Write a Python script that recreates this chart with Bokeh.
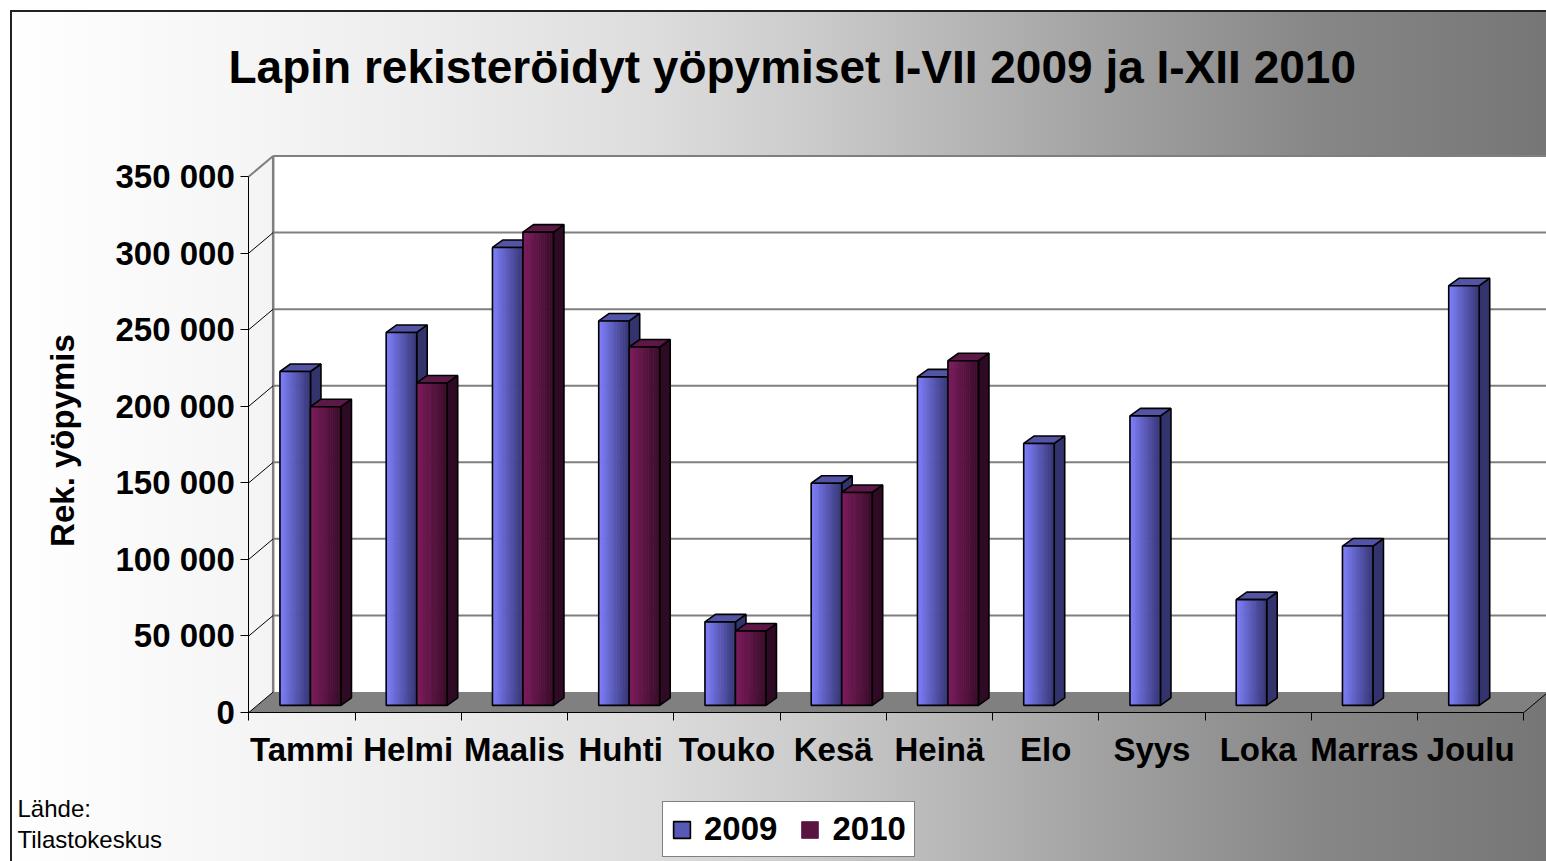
import math
from bokeh.plotting import figure
from bokeh.models import (Range1d, LinearAxis, FixedTicker, Legend, LegendItem, Title, Label,
                          ColumnDataSource, InlineStyleSheet)
from bokeh.embed import file_html
from bokeh.resources import INLINE

# ---------------- data ----------------
months = ["Tammi", "Helmi", "Maalis", "Huhti", "Touko", "Kesä",
          "Heinä", "Elo", "Syys", "Loka", "Marras", "Joulu"]
v2009 = [218000, 243500, 299000, 251000, 54500, 145000,
         214500, 171000, 189000, 69000, 104000, 274000]
v2010 = [195000, 210500, 309000, 234000, 48500, 139000, 225000]
series_names = ["2009", "2010"]
y_ticks = [0, 50000, 100000, 150000, 200000, 250000, 300000, 350000]
title_text = "Lapin rekisteröidyt yöpymiset I-VII 2009 ja I-XII 2010"
y_label = "Rek. yöpymis"
source_lines = ["Lähde:", "Tilastokeskus"]

# ---------------- layout / geometry (styling) ----------------
W, H = 1546, 861
BT = 120                        # frame top (title panel above)
AX_X, AX_Y = 248.3, 712.0       # page position of the front axes' origin
PX_CAT = 106.25                 # px per category
PX_VAL = 76.57 / 50000          # px per value unit
X_START, X_END = -AX_X / PX_CAT, (W - AX_X) / PX_CAT
Y_START, Y_END = -(H - AX_Y) / PX_VAL, (AX_Y - BT) / PX_VAL
DX = 24.4 / PX_CAT              # chart depth (x units)
DY = 20.5 / PX_VAL              # chart depth (value units)
F0 = 0.35
OX, OY = F0 * DX, F0 * DY       # bar front plane offset
BAR_W = 30.5 / PX_CAT
BDX = 10.5 / PX_CAT             # bar depth projected
BDY = 7.5 / PX_VAL
N_STRIP = 14
FONT = "Liberation Sans"


def px_x(px):   # page x -> data x
    return (px - AX_X) / PX_CAT


def px_y(py):   # page y -> data y
    return (AX_Y - py) / PX_VAL


p = figure(width=W, height=H, x_range=Range1d(X_START, X_END), y_range=Range1d(Y_START, Y_END),
           x_axis_type=None, y_axis_type=None, output_backend="svg",
           toolbar_location=None, min_border_left=0, min_border_right=0,
           min_border_top=BT, min_border_bottom=0,
           background_fill_color=None, border_fill_color=None,
           outline_line_color=None)
p.stylesheets = [InlineStyleSheet(css=""":host {
  background: linear-gradient(to right, #ffffff 0%, #f6f6f6 15%, #ececec 28%, #dddddd 42%,
              #cccccc 52%, #b4b4b4 63%, #9c9c9c 74%, #878787 85%, #767676 100%);
  box-shadow: inset 10px 10px 0 0 #ffffff, inset 12px 12px 0 0 #222222;
}""")]

# ---------------- title ----------------
p.add_layout(Title(text=title_text, align="left", offset=228, standoff=56,
                   text_font=FONT, text_font_size="46px", text_font_style="bold",
                   text_color="black"), "above")

# ---------------- walls & floor ----------------
top_v = y_ticks[-1]
n_cat = len(months)
p.quad(left=[DX], right=[X_END + 1], bottom=[DY], top=[DY + top_v],
       fill_color="white", line_color=None)
p.patch([0, DX, n_cat + DX, n_cat], [0, DY, DY, 0], fill_color="#808080", line_color=None)
p.segment(x0=[DX] * (len(y_ticks) - 1), y0=[v + DY for v in y_ticks[1:]],
          x1=[X_END + 1] * (len(y_ticks) - 1), y1=[v + DY for v in y_ticks[1:]],
          line_color="#7f7f7f", line_width=2)
p.segment(x0=[DX], y0=[DY], x1=[DX], y1=[DY + top_v], line_color="#7f7f7f", line_width=2.5)
p.segment(x0=[0] * (len(y_ticks) - 1), y0=y_ticks[:-1], x1=[DX] * (len(y_ticks) - 1),
          y1=[v + DY for v in y_ticks[:-1]], line_color="black", line_width=1)
p.segment(x0=[0], y0=[top_v], x1=[DX], y1=[top_v + DY], line_color="#7f7f7f", line_width=2)
p.segment(x0=[n_cat], y0=[0], x1=[n_cat + DX], y1=[DY], line_color="black", line_width=1)


# ---------------- 3D bars ----------------
def mix(c1, c2, t):
    return "#%02x%02x%02x" % tuple(int(round(a + (b - a) * t)) for a, b in zip(c1, c2))


def draw_series(vals, left_side, c_left, c_right, side_c, top_c):
    idx = list(range(len(vals)))
    x0 = [i + 0.5 + OX - (BAR_W if left_side else 0) for i in idx]
    x1 = [a + BAR_W for a in x0]
    yb = [OY] * len(vals)
    yt = [OY + v for v in vals]
    p.patches(xs=[[b, b + BDX, b + BDX, b] for b in x1],
              ys=[[OY, OY + BDY, t + BDY, t] for t in yt],
              fill_color=side_c, line_color="black", line_width=1.6)
    p.patches(xs=[[a, b, b + BDX, a + BDX] for a, b in zip(x0, x1)],
              ys=[[t, t, t + BDY, t + BDY] for t in yt],
              fill_color=top_c, line_color="black", line_width=1.6)
    L, R, B, T, C = [], [], [], [], []
    for a, t in zip(x0, yt):
        for k in range(N_STRIP):
            L.append(a + BAR_W * k / N_STRIP)
            R.append(a + BAR_W * (k + 1) / N_STRIP)
            B.append(OY)
            T.append(t)
            C.append(mix(c_left, c_right, (k + 0.5) / N_STRIP))
    src = ColumnDataSource(dict(left=L, right=R, bottom=B, top=T, color=C))
    r_strip = p.quad(left="left", right="right", bottom="bottom", top="top",
                     fill_color="color", line_color="color", line_width=0.8, source=src)
    r_out = p.quad(left=x0, right=x1, bottom=yb, top=yt, fill_color=None,
                   line_color="black", line_width=1.6)
    return r_strip, r_out


r09 = draw_series(v2009, True, (128, 128, 255), (54, 54, 116), "#33336e", "#5454a6")
r10 = draw_series(v2010, False, (128, 30, 96), (56, 12, 40), "#2e0a24", "#5c1846")

# ---------------- axes (drawn at the chart's front edges) ----------------
yaxis = LinearAxis(ticker=FixedTicker(ticks=y_ticks, minor_ticks=[]), bounds=(0, top_v),
                   fixed_location=0,
                   major_label_overrides={v: f"{v:,}".replace(",", " ") for v in y_ticks},
                   axis_line_color="black", axis_line_width=1,
                   major_tick_line_color="black", major_tick_out=8, major_tick_in=0,
                   minor_tick_line_color=None, major_label_standoff=6,
                   major_label_text_font=FONT, major_label_text_font_size="33px",
                   major_label_text_font_style="bold", major_label_text_color="black")
p.add_layout(yaxis, "left")

centers = [i + 0.5 for i in range(n_cat)]
xaxis = LinearAxis(ticker=FixedTicker(ticks=centers, minor_ticks=list(range(n_cat + 1))),
                   bounds=(0, n_cat), fixed_location=0,
                   major_label_overrides={c: m for c, m in zip(centers, months)},
                   axis_line_color="black", axis_line_width=1,
                   major_tick_line_color=None, major_tick_out=0, major_tick_in=0,
                   minor_tick_line_color="black", minor_tick_out=8, minor_tick_in=0,
                   major_label_standoff=10,
                   major_label_text_font=FONT, major_label_text_font_size="33px",
                   major_label_text_font_style="bold", major_label_text_color="black")
p.add_layout(xaxis, "below")

# y-axis title
p.add_layout(Label(x=px_x(62), y=px_y(440), text=y_label, angle=math.pi / 2,
                   text_align="center", text_baseline="middle",
                   text_font=FONT, text_font_size="33px", text_font_style="bold",
                   text_color="black"))

# ---------------- legend ----------------
legend = Legend(items=[LegendItem(label=series_names[0], renderers=list(r09), index=N_STRIP // 2),
                       LegendItem(label=series_names[1], renderers=list(r10), index=N_STRIP // 2)],
                orientation="horizontal", location=(662, 4),
                glyph_width=21, glyph_height=21, label_standoff=12, spacing=22,
                padding=8, margin=0, border_line_color="black", border_line_width=1,
                background_fill_color="white", background_fill_alpha=1,
                label_text_font=FONT, label_text_font_size="33px",
                label_text_font_style="bold", label_text_color="black")
p.add_layout(legend, "center")

# ---------------- source note ----------------
for line, yb in zip(source_lines, [808, 839]):
    p.add_layout(Label(x=px_x(17), y=px_y(yb), text=line,
                       text_font=FONT, text_font_size="24px", text_color="black",
                       text_baseline="alphabetic"))

open("out.html", "w").write(file_html(p, INLINE))
